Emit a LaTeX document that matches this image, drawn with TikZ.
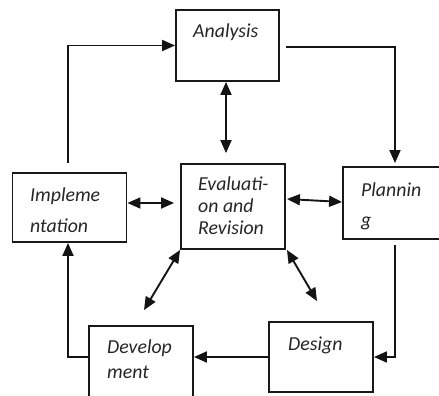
\documentclass[tikz,border=0pt]{standalone}
\usepackage{fontspec}
\setmainfont{Carlito}
\usetikzlibrary{arrows.meta,calc}
\begin{document}
\begin{tikzpicture}[x=1pt,y=-1pt,
  box/.style={draw=black!90,line width=1.9pt,fill=white,inner sep=0pt},
  lbl/.style={anchor=base west,inner sep=0pt,font=\fontsize{19.8}{22}\selectfont\itshape,text=black!85},
  conn/.style={draw=black!92,line width=1.9pt},
  arr/.style={conn,-{Triangle[length=13pt,width=11pt]}},
  darr/.style={conn,{Triangle[length=13pt,width=11pt]}-{Triangle[length=13pt,width=11pt]}}]
\useasboundingbox (0,0) rectangle (439,396);
% boxes
\node[box,minimum width=103pt,minimum height=71pt] (ana) at (227.5,45.5) {};
\node[box,minimum width=104pt,minimum height=85pt] (eva) at (233,206.5) {};
\node[box,minimum width=114pt,minimum height=69pt] (imp) at (69.5,207.5) {};
\node[box,minimum width=104pt,minimum height=72pt] (pla) at (395,203) {};
\node[box,minimum width=104pt,minimum height=71pt] (dev) at (141,361.5) {};
\node[box,minimum width=104pt,minimum height=70pt] (des) at (321,357) {};
% labels
\node[lbl] (anaT) at (193,38) {Analysis};
\node[lbl] (evaT1) at (198,190) {Evaluati-};
\node[lbl] (evaT2) at (198,212) {on and};
\node[lbl] (evaT3) at (198,234) {Revision};
\node[lbl] (impT1) at (30,201) {Impleme};
\node[lbl] (impT2) at (30,232) {ntation};
\node[lbl] (plaT1) at (361,196) {Plannin};
\node[lbl] (plaT2) at (361,226) {g};
\node[lbl] (devT1) at (107,353) {Develop};
\node[lbl] (devT2) at (107,378) {ment};
\node[lbl] (desT) at (288,350) {Design};
% connectors
\coordinate (c1) at ([xshift=-1.5pt,yshift=9pt]imp.north);
\draw[arr] (c1) |- (ana.west);
\coordinate (c2) at ([xshift=6pt,yshift=-1.5pt]ana.east);
\draw[arr] (c2) -| ([yshift=3pt]pla.north);
\coordinate (c3) at ([yshift=-5pt]pla.south);
\draw[arr] (c3) |- (des.east);
\draw[arr] (des.west) -- (des.west -| dev.east);
\coordinate (c4) at (des.west -| dev.west);
\draw[arr] (c4) -| ([xshift=-1.5pt]imp.south);
\coordinate (c5) at ([xshift=-1.5pt]ana.south);
\draw[darr,shorten >=10pt] (c5) -- (c5 |- eva.north);
\coordinate (c6) at ([yshift=4.5pt]imp.east);
\draw[darr,shorten >=6pt] (c6) -- (c6 -| eva.west);
\draw[darr] ([xshift=1pt,yshift=7.5pt]eva.east) -- ([yshift=1pt]pla.west);
\draw[darr] (eva.south west) -- ([xshift=3pt,yshift=15pt]dev.north);
\draw[darr] ([xshift=1pt]eva.south east) -- ([xshift=-4pt,yshift=20pt]des.north);
\end{tikzpicture}
\end{document}
